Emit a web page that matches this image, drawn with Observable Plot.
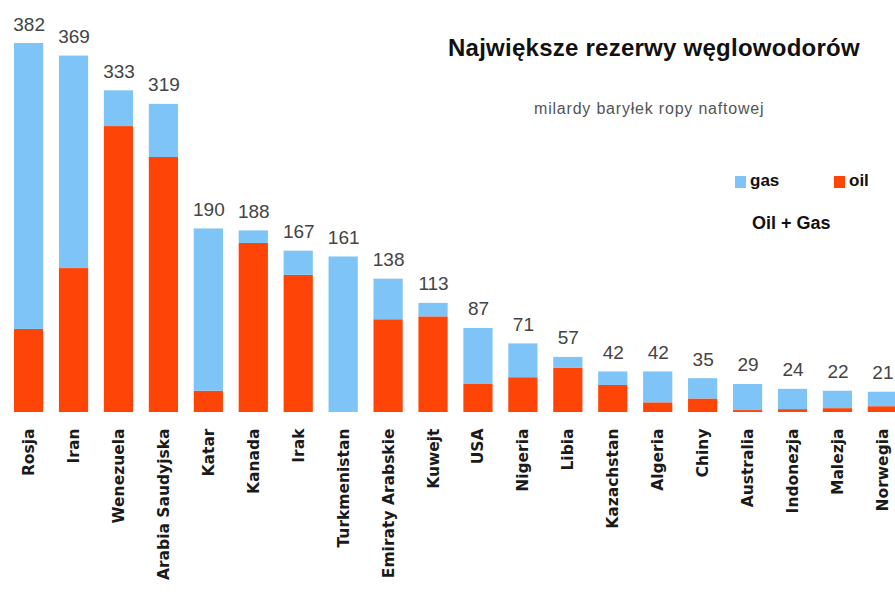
<!DOCTYPE html>
<html><head><meta charset="utf-8">
<script src="https://cdn.jsdelivr.net/npm/d3@7"></script>
<script src="https://cdn.jsdelivr.net/npm/@observablehq/plot@0.6"></script>
<style>
body{margin:0;background:#fff;}
#wrap{position:relative;width:895px;height:594px;overflow:hidden;background:#fff;}
.ov{position:absolute;white-space:nowrap;font-family:"Liberation Sans",Arial,sans-serif;}
#title{left:448px;top:34px;font-size:24px;font-weight:bold;color:#111;letter-spacing:0.25px;}
#sub{left:534px;top:100px;font-size:16px;color:#555;letter-spacing:0.8px;}
.sw{position:absolute;width:11px;height:12px;}
.lg{font-size:17px;font-weight:bold;color:#111;}
</style></head>
<body><div id="wrap">
<div id="chart"></div>
<div class="ov" id="title">Największe rezerwy węglowodorów</div>
<div class="ov" id="sub">milardy baryłek ropy naftowej</div>
<div class="sw" style="left:735px;top:176px;background:#7ec4f6"></div>
<div class="ov lg" style="left:750px;top:171px;">gas</div>
<div class="sw" style="left:834px;top:176px;background:#ff4408"></div>
<div class="ov lg" style="left:849px;top:171px;">oil</div>
<div class="ov lg" style="left:752px;top:213px;font-size:18px;">Oil + Gas</div>
</div>
<script>
const countries = ["Rosja","Iran","Wenezuela","Arabia Saudyjska","Katar","Kanada","Irak","Turkmenistan","Emiraty Arabskie","Kuwejt","USA","Nigeria","Libia","Kazachstan","Algeria","Chiny","Australia","Indonezja","Malezja","Norwegia"];
const totals = [382,369,333,319,190,188,167,161,138,113,87,71,57,42,42,35,29,24,22,21];
const oil = [86,149,296,264,22,175,142,0,96,99,29,36,46,28,10,14,2,3,4,6];
const gas = totals.map((t,i)=>t-oil[i]);
const types = ["oil","gas"];
const colors = ["#ff4408","#7ec4f6"];

const rows = [];
countries.forEach((c,i)=>rows.push({country:c,type:"oil",value:oil[i]}));
countries.forEach((c,i)=>rows.push({country:c,type:"gas",value:gas[i]}));
const labels = countries.map((c,i)=>({country:c,total:totals[i]}));

const chart = Plot.plot({
  width:895, height:594,
  marginTop:43, marginBottom:182, marginLeft:0, marginRight:0,
  style:{background:"transparent"},
  x:{domain:countries, range:[14,897], paddingInner:0.35, paddingOuter:0, round:false, label:null},
  y:{domain:[0,382], axis:null},
  color:{domain:types, range:colors},
  marks:[
    Plot.barY(rows,{x:"country",y:"value",fill:"type"}),
    Plot.text(labels,{x:"country",y:"total",text:d=>String(d.total),lineAnchor:"bottom",dy:-13,fontSize:19,fill:"#444",fontFamily:"Liberation Sans, Arial, sans-serif"}),
    Plot.axisX({tickRotate:-90,tickSize:0,tickPadding:16,fontSize:15.5,fontWeight:"bold",fill:"#1a1a1a",fontFamily:"DejaVu Sans, sans-serif",style:{letterSpacing:"1.8px"},label:null})
  ]
});
document.getElementById("chart").appendChild(chart);
</script>
</body></html>
